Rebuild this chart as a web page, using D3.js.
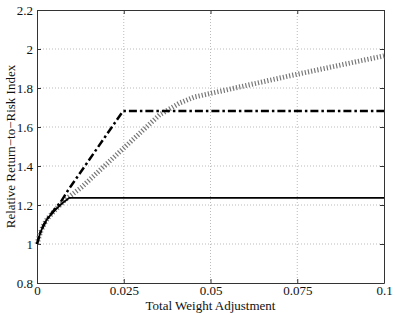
<!DOCTYPE html>
<html>
<head>
<meta charset="utf-8">
<script src="https://cdn.jsdelivr.net/npm/d3@7"></script>
<style>
  body { margin: 0; background: #fff; }
  text { font-family: "Liberation Serif", "Times New Roman", serif; }
</style>
</head>
<body>
<div id="chart"></div>
<script>
var xTicks = [0, 0.025, 0.05, 0.075, 0.1],
    xTickLabels = ['0', '0.025', '0.05', '0.075', '0.1'],
    yTicks = [0.8, 1, 1.2, 1.4, 1.6, 1.8, 2, 2.2],
    yTickLabels = ['0.8', '1', '1.2', '1.4', '1.6', '1.8', '2', '2.2'];

// solid line
var solidX = [0, 0.001, 0.002, 0.003, 0.005, 0.007, 0.0093, 0.1],
    solidY = [1.0, 1.06, 1.1, 1.13, 1.17, 1.205, 1.237, 1.237];

// dash-dot line
var dashX = [0, 0.001, 0.002, 0.003, 0.005, 0.007, 0.009, 0.0248, 0.1],
    dashY = [1.0, 1.06, 1.1, 1.13, 1.175, 1.22, 1.277, 1.682, 1.682];

// hatched gray line
var hatchX = [0, 0.001, 0.002, 0.003, 0.005, 0.008, 0.0129, 0.025, 0.0353, 0.0411, 0.0454, 0.0727, 0.1],
    hatchY = [1.0, 1.06, 1.1, 1.13, 1.17, 1.225, 1.292, 1.492, 1.662, 1.723, 1.754, 1.862, 1.965];

var W = 395, H = 313,
    m = {top: 10, right: 11, bottom: 30, left: 37},
    w = W - m.left - m.right,
    h = H - m.top - m.bottom;

var svg = d3.select('#chart').append('svg')
    .attr('width', W)
    .attr('height', H)
  .append('g')
    .attr('transform', 'translate(' + m.left + ',' + m.top + ')');

var x = d3.scaleLinear().domain([0, 0.1]).range([0, w]),
    y = d3.scaleLinear().domain([0.8, 2.2]).range([h, 0]);

// grid
svg.selectAll('.gx').data(xTicks.slice(1, -1)).enter().append('line')
    .attr('x1', function(d){ return x(d); })
    .attr('x2', function(d){ return x(d); })
    .attr('y1', 0).attr('y2', h)
    .attr('stroke', '#bbb').attr('stroke-dasharray', '1,2');

svg.selectAll('.gy').data(yTicks.slice(1, -1)).enter().append('line')
    .attr('y1', function(d){ return y(d); })
    .attr('y2', function(d){ return y(d); })
    .attr('x1', 0).attr('x2', w)
    .attr('stroke', '#bbb').attr('stroke-dasharray', '1,2');

// axes with inward ticks
var fmtX = function(d, i){ return xTickLabels[i]; },
    fmtY = function(d, i){ return yTickLabels[i]; };

svg.append('g').attr('transform', 'translate(0,' + h + ')')
    .call(d3.axisBottom(x).tickValues(xTicks).tickFormat(fmtX).tickSizeInner(-4).tickSizeOuter(0).tickPadding(3));
svg.append('g')
    .call(d3.axisTop(x).tickValues(xTicks).tickFormat('').tickSizeInner(-4).tickSizeOuter(0));
svg.append('g')
    .call(d3.axisLeft(y).tickValues(yTicks).tickFormat(fmtY).tickSizeInner(-4).tickSizeOuter(0).tickPadding(4));
svg.append('g').attr('transform', 'translate(' + w + ',0)')
    .call(d3.axisRight(y).tickValues(yTicks).tickFormat('').tickSizeInner(-4).tickSizeOuter(0));

svg.selectAll('g').attr('font-family', '"Liberation Serif", serif');
svg.selectAll('.domain').attr('stroke', '#333');
svg.selectAll('.tick line').attr('stroke', '#333');
svg.selectAll('.tick text')
    .attr('font-size', 13)
    .attr('fill', '#111');

function series(xs, ys){
  return xs.map(function(d, i){ return [d, ys[i]]; });
}

var line = d3.line()
    .x(function(d){ return x(d[0]); })
    .y(function(d){ return y(d[1]); });

svg.append('path').datum(series(hatchX, hatchY))
    .attr('d', line)
    .attr('fill', 'none')
    .attr('stroke', '#777')
    .attr('stroke-width', 5)
    .attr('stroke-dasharray', '1.2,2');

svg.append('path').datum(series(dashX, dashY))
    .attr('d', line)
    .attr('fill', 'none')
    .attr('stroke', '#000')
    .attr('stroke-width', 2.5)
    .attr('stroke-dasharray', '8,3,2.5,3');

svg.append('path').datum(series(solidX, solidY))
    .attr('d', line)
    .attr('fill', 'none')
    .attr('stroke', '#000')
    .attr('stroke-width', 1.8);

// labels
svg.append('text')
    .attr('x', w / 2)
    .attr('y', h + 27)
    .attr('text-anchor', 'middle')
    .attr('font-size', 13)
    .attr('fill', '#111')
    .text('Total Weight Adjustment');

svg.append('text')
    .attr('transform', 'translate(' + (-22) + ',' + (h / 2) + ') rotate(-90)')
    .attr('text-anchor', 'middle')
    .attr('font-size', 13)
    .attr('fill', '#111')
    .text('Relative Return\u2212to\u2212Risk Index');
</script>
</body>
</html>
